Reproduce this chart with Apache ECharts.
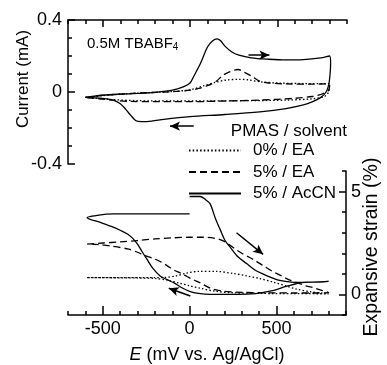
<!DOCTYPE html>
<html>
<head>
<meta charset="utf-8">
<script src="https://cdn.jsdelivr.net/npm/echarts@6/dist/echarts.min.js"></script>
<style>html,body{margin:0;padding:0;background:#fff}#c{width:387px;height:365px}</style>
</head>
<body>
<div id="c"></div>
<script>
// ---------- data ----------
const seriesNames = ['0% / EA', '5% / EA', '5% / AcCN'];
// Top panel: cyclic voltammograms [E (mV), I (mA)]
const cvDotted = [[-600,-0.03],[-500,-0.02],[-400,-0.012],[-300,-0.006],[-200,-0.002],[-100,0.003],[0,0.012],[80,0.035],[150,0.055],[210,0.067],[280,0.07],[330,0.068],[400,0.057],[500,0.05],[650,0.047],[800,0.047],
  [800,0.03],[795,0.0],[770,-0.025],[700,-0.038],[550,-0.045],[350,-0.048],[100,-0.05],[-100,-0.05],[-300,-0.048],[-450,-0.042],[-600,-0.03]];
const cvDashed = [[-600,-0.03],[-500,-0.018],[-400,-0.012],[-300,-0.006],[-200,-0.002],[-100,0.002],[0,0.01],[50,0.02],[100,0.035],[150,0.06],[190,0.094],[230,0.113],[275,0.125],[310,0.11],[350,0.09],[400,0.06],[450,0.05],[550,0.045],[700,0.044],[790,0.045],[800,0.04],
  [795,0.01],[760,-0.01],[700,-0.025],[600,-0.035],[400,-0.045],[200,-0.05],[0,-0.054],[-200,-0.054],[-350,-0.052],[-450,-0.045],[-520,-0.038],[-600,-0.03]];
const cvSolid = [[-600,-0.03],[-500,-0.018],[-400,-0.012],[-300,-0.008],[-200,-0.002],[-100,0.01],[-36,0.03],[0,0.05],[20,0.085],[60,0.16],[100,0.25],[130,0.285],[155,0.295],[175,0.285],[200,0.255],[240,0.222],[280,0.205],[350,0.19],[450,0.182],[550,0.178],[650,0.18],[750,0.19],[800,0.2],
  [806,0.16],[803,0.1],[795,0.04],[780,0.0],[750,-0.03],[700,-0.055],[650,-0.072],[550,-0.092],[400,-0.11],[200,-0.125],[0,-0.137],[-150,-0.152],[-220,-0.162],[-280,-0.165],[-310,-0.16],[-340,-0.13],[-370,-0.095],[-400,-0.065],[-440,-0.045],[-500,-0.036],[-560,-0.032],[-600,-0.03]];
// Bottom panel: expansive strain [E (mV), strain (%)]
const strainDotted = [[-590,0.82],[-400,0.82],[-200,0.82],[-140,0.83],[-80,0.9],[-20,1.03],[50,1.12],[150,1.12],[250,1.02],[330,0.9],[400,0.78],[480,0.6],[560,0.4],[614,0.26],[700,0.12],[780,0.05],
  [800,0.03],[600,0.04],[400,0.05],[250,0.08],[150,0.15],[60,0.3],[0,0.42],[-60,0.55],[-120,0.68],[-200,0.78],[-300,0.8],[-590,0.82]];
const strainDashed = [[-590,2.45],[-500,2.5],[-400,2.55],[-300,2.62],[-200,2.7],[-100,2.75],[0,2.78],[80,2.78],[150,2.72],[190,2.62],[223,2.45],[260,2.22],[300,2.0],[340,1.82],[376,1.65],[423,1.4],[471,1.15],[528,0.9],[570,0.72],[620,0.56],[670,0.42],[715,0.32],[760,0.2],[790,0.12],
  [800,0.08],[700,0.07],[600,0.07],[450,0.08],[300,0.1],[200,0.15],[120,0.3],[61,0.56],[20,0.72],[-15,0.87],[-50,1.03],[-91,1.19],[-130,1.4],[-167,1.59],[-210,1.75],[-262,1.9],[-300,2.05],[-350,2.2],[-450,2.35],[-520,2.42],[-590,2.45]];
const strainSolid = [[0,4.76],[60,4.76],[90,4.62],[118,4.4],[150,3.65],[176,3.15],[204,2.62],[233,2.3],[278,1.83],[328,1.5],[376,1.19],[421,1.0],[471,0.82],[518,0.68],[566,0.62],[620,0.58],[700,0.6],[800,0.63],
  [750,0.6],[650,0.58],[560,0.4],[470,0.17],[380,0.04],[280,0.0],[120,0.0],[50,0.05],[0,0.15],[-50,0.35],[-90,0.56],[-130,0.72],[-170,0.9],[-210,1.25],[-245,1.7],[-275,2.1],[-300,2.45],[-330,2.75],[-360,2.95],[-400,3.12],[-440,3.27],[-510,3.49],[-590,3.73],
  [-540,3.83],[-480,3.9],[-435,3.92],[-200,3.92],[0,3.92]];
// axis ticks / labels
const xTickLabels = [-500, 0, 500];
const yTopTickLabels = [-0.4, 0, 0.4];
const yBottomTickLabels = [0, 5];
// arrow annotations [[E1,v1],[E2,v2]]
const cvArrows = [[[335,0.205],[455,0.205]], [[21,-0.19],[-115,-0.19]]];
const strainArrows = [[[270,3.0],[423,1.95]], [[4,-0.08],[-120,0.3]]];

// ---------- chart ----------
const FONT = '"Liberation Sans", Arial, Helvetica, sans-serif';
const BLACK = '#000';
const DOT = [1.5, 2.2];
const DASH = [7, 4];

function isIn(v, list) { return list.some(t => Math.abs(t - v) < 1e-6); }

function minorX(grid, pos, labels) {
  return {gridIndex: grid, type: 'value', position: pos, min: -700, max: 900, interval: 100,
    axisLine: {show: true, onZero: false, lineStyle: {color: BLACK, width: 1.5}},
    axisTick: {show: true, inside: true, length: 4, lineStyle: {color: BLACK, width: 1.5}},
    axisLabel: labels ? {show: true, margin: 5, color: BLACK, fontFamily: FONT, fontSize: 18,
      formatter: v => isIn(v, xTickLabels) ? String(v) : ''} : {show: false},
    splitLine: {show: false}};
}
function majorX(grid, pos, len) {
  return {gridIndex: grid, type: 'value', position: pos, offset: 0, min: -700, max: 900, interval: 100,
    axisLine: {show: false, onZero: false},
    axisTick: {show: true, inside: true, length: len, customValues: xTickLabels, lineStyle: {color: BLACK, width: 1.5}},
    axisLabel: {show: false}, splitLine: {show: false}};
}

const option = {
  animation: false,
  backgroundColor: '#fff',
  grid: [
    {left: 68, top: 20, width: 279, height: 144, containLabel: false},
    {left: 68, top: 171, width: 278, height: 145, containLabel: false}
  ],
  xAxis: [
    minorX(0, 'top', false),
    majorX(0, 'top', 7),
    Object.assign(minorX(1, 'bottom', true), {
      name: '{i|E} (mV vs. Ag/AgCl)', nameLocation: 'middle', nameGap: 31,
      nameTextStyle: {color: BLACK, fontFamily: FONT, fontSize: 18,
        rich: {i: {fontStyle: 'italic', fontFamily: FONT, fontSize: 18, color: BLACK}}}
    }),
    majorX(1, 'bottom', 9)
  ],
  yAxis: [
    {gridIndex: 0, type: 'value', position: 'left', min: -0.4, max: 0.4, interval: 0.1,
      axisLine: {show: true, onZero: false, lineStyle: {color: BLACK, width: 1.5}},
      axisTick: {show: true, inside: true, length: 4, lineStyle: {color: BLACK, width: 1.5}},
      axisLabel: {show: true, margin: 6, color: BLACK, fontFamily: FONT, fontSize: 18,
        formatter: v => isIn(v, yTopTickLabels) ? String(Math.round(v * 10) / 10) : ''},
      splitLine: {show: false}},
    {gridIndex: 0, type: 'value', position: 'left', offset: 0, min: -0.4, max: 0.4, interval: 0.4,
      axisLine: {show: false, onZero: false},
      axisTick: {show: true, inside: true, length: 7, lineStyle: {color: BLACK, width: 1.5}},
      axisLabel: {show: false}, splitLine: {show: false}},
    {gridIndex: 1, type: 'value', position: 'right', min: -1, max: 6, interval: 1,
      axisLine: {show: true, onZero: false, lineStyle: {color: BLACK, width: 1.5}},
      axisTick: {show: true, inside: true, length: 4, lineStyle: {color: BLACK, width: 1.5}},
      axisLabel: {show: true, margin: 5, color: BLACK, fontFamily: FONT, fontSize: 18,
        formatter: v => isIn(v, yBottomTickLabels) ? String(v) : ''},
      splitLine: {show: false}},
    {gridIndex: 1, type: 'value', position: 'right', offset: 0, min: -1, max: 6, interval: 1,
      axisLine: {show: false, onZero: false},
      axisTick: {show: true, inside: true, length: 7, customValues: yBottomTickLabels, lineStyle: {color: BLACK, width: 1.5}},
      axisLabel: {show: false}, splitLine: {show: false}}
  ],
  legend: {
    data: seriesNames, orient: 'vertical', left: 188, top: 142,
    itemWidth: 52, itemHeight: 14, itemGap: 4.5, padding: 0,
    selectedMode: false,
    itemStyle: {opacity: 0},
    textStyle: {color: BLACK, fontFamily: FONT, fontSize: 17, padding: [0, 0, 0, 7]}
  },
  graphic: [
    {type: 'text', left: 87, top: 36, silent: true,
      style: {text: '0.5M TBABF{s|4}', fill: BLACK, font: '15px ' + FONT,
        rich: {s: {fontSize: 10, fontFamily: FONT, fill: BLACK, verticalAlign: 'bottom', padding: [8, 0, 0, 0]}}}},
    {type: 'text', right: 40, top: 123, silent: true,
      style: {text: 'PMAS / solvent', fill: BLACK, font: '17px ' + FONT, textAlign: 'right'}},
    {type: 'text', x: 23, y: 79, rotation: Math.PI / 2, silent: true,
      style: {text: 'Current (mA)', fill: BLACK, font: '17px ' + FONT, textAlign: 'center', textVerticalAlign: 'middle'}},
    {type: 'text', x: 372, y: 247, rotation: Math.PI / 2, silent: true,
      style: {text: 'Expansive strain (%)', fill: BLACK, font: '19.5px ' + FONT, textAlign: 'center', textVerticalAlign: 'middle'}}
  ],
  series: []
};

function lineSeries(name, data, dash, xi, yi) {
  return {name: name, type: 'line', data: data, xAxisIndex: xi, yAxisIndex: yi,
    symbol: 'none', smooth: 0.3, clip: false, silent: true,
    lineStyle: {color: BLACK, width: 1.3, type: dash}, itemStyle: {color: BLACK}};
}
function arrowMark(arrs) {
  return {silent: true, symbol: ['none', 'arrow'], symbolSize: [7, 10], precision: 4,
    label: {show: false}, lineStyle: {color: BLACK, width: 1.5, type: 'solid'}, itemStyle: {color: BLACK},
    data: arrs.map(a => [{coord: a[0]}, {coord: a[1]}])};
}

option.series.push(lineSeries('cv ' + seriesNames[0], cvDotted, DOT, 0, 0));
option.series.push(lineSeries('cv ' + seriesNames[1], cvDashed, DASH, 0, 0));
const cvS = lineSeries('cv ' + seriesNames[2], cvSolid, 'solid', 0, 0);
cvS.markLine = arrowMark(cvArrows);
option.series.push(cvS);
option.series.push(lineSeries(seriesNames[0], strainDotted, DOT, 2, 2));
option.series.push(lineSeries(seriesNames[1], strainDashed, DASH, 2, 2));
const stS = lineSeries(seriesNames[2], strainSolid, 'solid', 2, 2);
stS.markLine = arrowMark(strainArrows);
option.series.push(stS);

const chart = echarts.init(document.getElementById('c'), null, {renderer: 'canvas'});
chart.setOption(option);
</script>
</body>
</html>
